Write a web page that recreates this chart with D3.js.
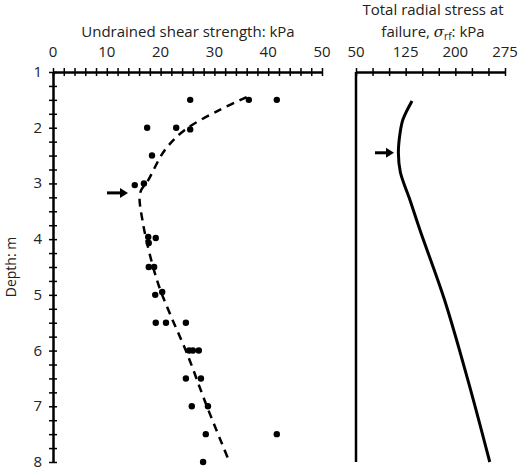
<!DOCTYPE html>
<html><head><meta charset="utf-8">
<script src="https://cdn.jsdelivr.net/npm/d3@7"></script>
<style>body{margin:0;background:#fff}text{font-family:"Open Sans",sans-serif;fill:#222}</style>
</head><body><div class="chart"></div>
<script>
const width = 520, height = 469;

// measured shear strength points [kPa, depth m]
const suPoints = [[25.5,1.5],[36.4,1.5],[41.6,1.5],[17.5,2.0],[22.9,2.0],[25.5,2.03],[18.4,2.5],
  [15.2,3.03],[16.9,3.0],[17.7,3.96],[17.8,4.07],[19.1,3.98],[17.8,4.5],[18.8,4.5],[19,5.0],[20.3,4.95],
  [19.1,5.5],[21,5.5],[24.7,5.5],[25.3,6.0],[26,6.0],[27.1,6.0],[24.7,6.5],[27.5,6.5],[25.8,7.0],[28.8,7.0],
  [28.4,7.5],[41.6,7.5],[27.9,8.0]];
// dashed trend line
const suTrend = [[36,1.45],[31,1.68],[24.5,2.04],[20.8,2.4],[17.7,2.94],[16.2,3.17],[16.7,3.7],[19.3,4.73],
  [21.7,5.33],[24.9,6.05],[28.6,7.0],[32.8,8.0]];
// radial stress at failure
const sigmaRf = [[134.6,1.52],[121,1.85],[116.5,2.1],[114,2.45],[117,2.8],[131.6,3.3],[146.7,3.84],
  [184,5.1],[219,6.53],[252,8.0]];
const arrowDepthLeft = 3.17, arrowDepthRight = 2.45;
const depthTicks = [1,2,3,4,5,6,7,8];
const suTicks = [0,10,20,30,40,50];
const sigTicks = [50,125,200,275];

const svg = d3.select('.chart').append('svg').attr('width', width).attr('height', height);
const y = d3.scaleLinear().domain([1, 8]).range([72, 462]);
const x1 = d3.scaleLinear().domain([0, 50]).range([53, 322]);
const x2 = d3.scaleLinear().domain([50, 275]).range([356, 505]);

// left depth axis
svg.append('g').attr('transform', 'translate(53,0)')
  .call(d3.axisLeft(y).tickValues(d3.range(1, 8.01, 0.25)).tickSize(0).tickFormat(''))
  .call(g => g.selectAll('.tick line').attr('x1', -4).attr('x2', 4).attr('stroke-width', 1.5))
  .call(g => g.select('.domain').attr('stroke-width', 2.5));
svg.selectAll('.dlab').data(depthTicks).enter().append('text')
  .attr('x', 42).attr('y', d => y(d) + 5).attr('text-anchor', 'end').attr('font-size', 15).text(d => d);
svg.append('text').attr('transform', 'translate(16,267) rotate(-90)').attr('text-anchor', 'middle')
  .attr('font-size', 14).text('Depth: m');

// top axis left panel
svg.append('g').attr('transform', 'translate(0,72)')
  .call(d3.axisTop(x1).tickValues(d3.range(0, 50.01, 2)).tickSize(0).tickFormat(''))
  .call(g => g.selectAll('.tick line').attr('y1', -4).attr('y2', 4).attr('stroke-width', 1.5))
  .call(g => g.select('.domain').attr('stroke-width', 2.5));
svg.selectAll('.xlab').data(suTicks).enter().append('text')
  .attr('x', d => x1(d)).attr('y', 57).attr('text-anchor', 'middle').attr('font-size', 15).text(d => d);
svg.append('text').attr('x', 188).attr('y', 37).attr('text-anchor', 'middle').attr('font-size', 15)
  .text('Undrained shear strength: kPa');

// right panel axes
svg.append('g').attr('transform', 'translate(0,72)')
  .call(d3.axisTop(x2).tickValues(d3.range(50, 275.1, 25)).tickSize(0).tickFormat(''))
  .call(g => g.selectAll('.tick line').attr('y1', -4).attr('y2', 4).attr('stroke-width', 1.5))
  .call(g => g.select('.domain').attr('stroke-width', 2.5));
svg.append('line').attr('x1', x2(50)).attr('x2', x2(50)).attr('y1', y(1)).attr('y2', y(8))
  .attr('stroke', '#000').attr('stroke-width', 2.5);
svg.selectAll('.x2lab').data(sigTicks).enter().append('text')
  .attr('x', d => x2(d)).attr('y', 57).attr('text-anchor', 'middle').attr('font-size', 15).text(d => d);
svg.append('text').attr('x', 433).attr('y', 15).attr('text-anchor', 'middle').attr('font-size', 15)
  .text('Total radial stress at');
const t2 = svg.append('text').attr('x', 433).attr('y', 37).attr('text-anchor', 'middle').attr('font-size', 15);
t2.append('tspan').text('failure, ');
t2.append('tspan').attr('font-style', 'italic').attr('font-family', 'DejaVu Serif').text('σ');
t2.append('tspan').attr('font-size', 10).attr('dy', 3).text('rf');
t2.append('tspan').attr('dy', -3).text(': kPa');

// data
const line1 = d3.line().x(d => x1(d[0])).y(d => y(d[1])).curve(d3.curveCatmullRom);
svg.append('path').attr('d', line1(suTrend)).attr('fill', 'none').attr('stroke', '#000')
  .attr('stroke-width', 2.5).attr('stroke-dasharray', '8,6');
svg.selectAll('.pt').data(suPoints).enter().append('circle')
  .attr('cx', d => x1(d[0])).attr('cy', d => y(d[1])).attr('r', 3.2).attr('fill', '#000');
const line2 = d3.line().x(d => x2(d[0])).y(d => y(d[1])).curve(d3.curveCatmullRom);
svg.append('path').attr('d', line2(sigmaRf)).attr('fill', 'none').attr('stroke', '#000').attr('stroke-width', 3);

// arrows
function arrow(xa, xb, yy) {
  svg.append('line').attr('x1', xa).attr('x2', xb - 6).attr('y1', yy).attr('y2', yy)
    .attr('stroke', '#000').attr('stroke-width', 3);
  svg.append('path').attr('d', `M${xb - 8},${yy - 5}L${xb},${yy}L${xb - 8},${yy + 5}Z`).attr('fill', '#000');
}
arrow(107, 128, y(arrowDepthLeft));
arrow(375, 394, y(arrowDepthRight));
</script></body></html>
